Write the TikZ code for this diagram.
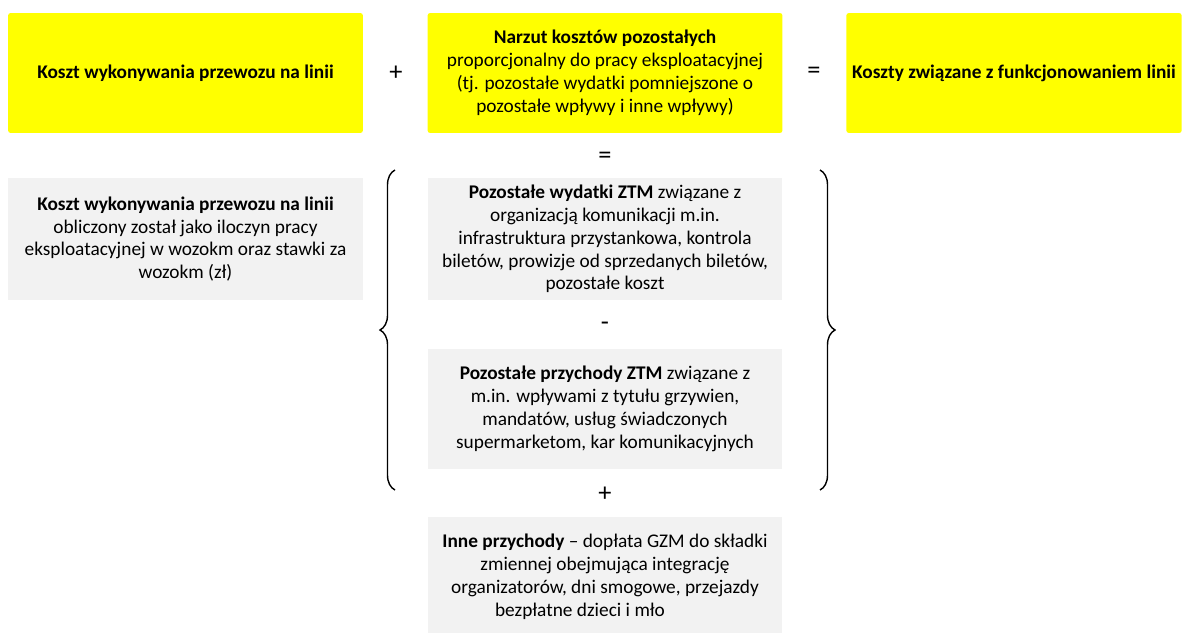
\documentclass[tikz,border=0pt]{standalone}
\usepackage{fontspec}
\setmainfont{Carlito}
\usetikzlibrary{decorations.pathreplacing}
\definecolor{hilite}{HTML}{FFFF00}
\definecolor{panel}{HTML}{F2F2F2}

\begin{document}
\begin{tikzpicture}[
    x=0.02cm, y=-0.02cm,
    ybox/.style={fill=hilite, rounded corners=1.5pt, align=center,
                 minimum width=7.1cm, minimum height=2.4cm,
                 font=\fontsize{11}{13}\selectfont},
    gbox/.style={fill=panel, align=center,
                 minimum width=7.1cm, minimum height=2.4cm,
                 font=\fontsize{11}{13}\selectfont},
    op/.style={font=\fontsize{15}{15}\selectfont},
    brc/.style={decorate, decoration={brace, amplitude=0.3cm}, line width=0.8pt},
]
\useasboundingbox (0,0) rectangle (1189,632);

\node[ybox] (cost) at (185.5,73) {\textbf{Koszt wykonywania przewozu na linii}};
\node[ybox] (markup) at (605,73) {\textbf{Narzut kosztów pozostałych}\\
    proporcjonalny do pracy eksploatacyjnej\\
    (tj. pozostałe wydatki pomniejszone o\\
    pozostałe wpływy i inne wpływy)};
\node[ybox, minimum width=6.7cm] (total) at (1014,73) {\textbf{Koszty związane z funkcjonowaniem linii}};

\node[op] (plus1) at (396,73) {+};
\node[op] (eq1) at (814,73) {=};

\node[gbox, minimum height=2.44cm] (costdesc) at (185.5,239) {\textbf{Koszt wykonywania przewozu na linii}\\
    obliczony został jako iloczyn pracy\\
    eksploatacyjnej w wozokm oraz stawki za\\
    wozokm (zł)};

\node[op] (eq2) at (605,158) {=};
\node[gbox, minimum height=2.44cm] (spend) at (605,239) {\textbf{Pozostałe wydatki ZTM} związane z\\
    organizacją komunikacji m.in.\\
    infrastruktura przystankowa, kontrola\\
    biletów, prowizje od sprzedanych biletów,\\
    pozostałe koszt};
\node[op] (minus) at (605,326) {-};
\node[gbox] (income) at (605,409) {\textbf{Pozostałe przychody ZTM} związane z\\
    m.in. wpływami z tytułu grzywien,\\
    mandatów, usług świadczonych\\
    supermarketom, kar komunikacyjnych};
\node[op] (plus2) at (605,494) {+};
\node[gbox] (other) at (605,577) {\textbf{Inne przychody} – dopłata GZM do składki\\
    zmiennej obejmująca integrację\\
    organizatorów, dni smogowe, przejazdy\\
    bezpłatne dzieci i mło\rule{1cm}{0pt}};

% braces round the two middle boxes
\coordinate (lbtop) at (395,170);
\coordinate (lbbot) at (395,490);
\coordinate (rbtop) at (820,170);
\coordinate (rbbot) at (820,490);
\draw[brc] (lbbot) -- (lbtop);
\draw[brc] (rbtop) -- (rbbot);

\end{tikzpicture}
\end{document}
